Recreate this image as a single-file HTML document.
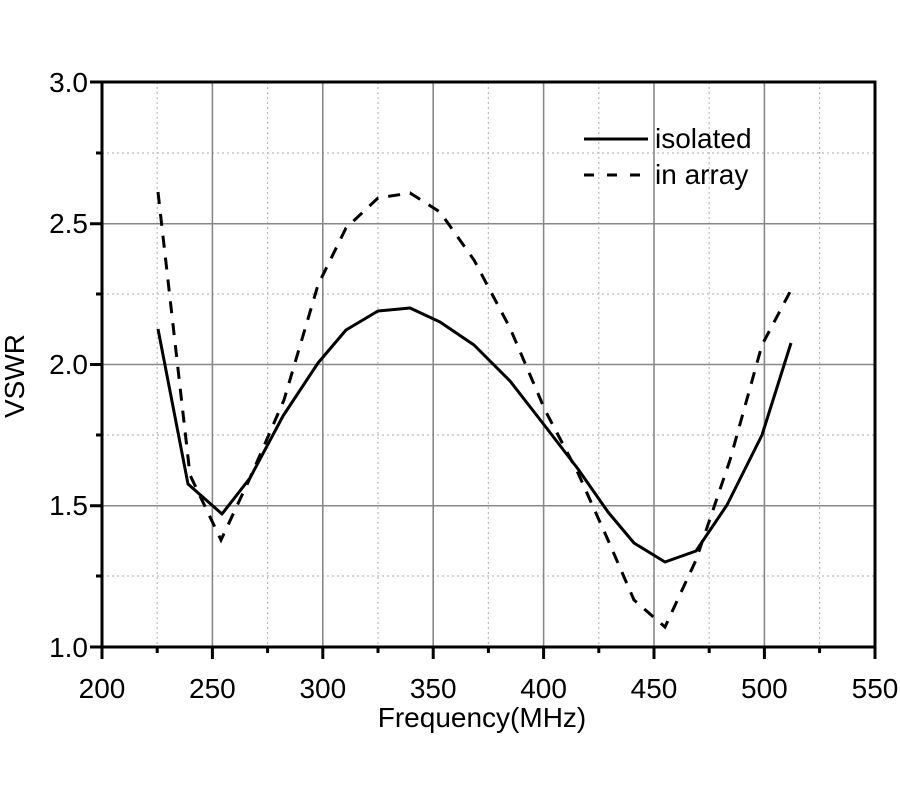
<!DOCTYPE html>
<html><head><style>body{margin:0;background:#fff}svg{display:block}text{font-family:"Liberation Sans",Arial,sans-serif;fill:#000}</style></head>
<body>
<svg width="900" height="800" viewBox="0 0 900 800">
<g stroke="#bbb" stroke-width="1.2" stroke-dasharray="2,3">
<line x1="157.2" y1="82" x2="157.2" y2="647"/><line x1="267.6" y1="82" x2="267.6" y2="647"/><line x1="378" y1="82" x2="378" y2="647"/><line x1="488.4" y1="82" x2="488.4" y2="647"/><line x1="598.8" y1="82" x2="598.8" y2="647"/><line x1="709.2" y1="82" x2="709.2" y2="647"/><line x1="819.6" y1="82" x2="819.6" y2="647"/>
<line x1="102" y1="153" x2="875" y2="153"/><line x1="102" y1="294" x2="875" y2="294"/><line x1="102" y1="435" x2="875" y2="435"/><line x1="102" y1="576" x2="875" y2="576"/>
</g>
<g stroke="#888" stroke-width="1.6">
<line x1="212.4" y1="82" x2="212.4" y2="647"/><line x1="322.8" y1="82" x2="322.8" y2="647"/><line x1="433.2" y1="82" x2="433.2" y2="647"/><line x1="543.6" y1="82" x2="543.6" y2="647"/><line x1="654" y1="82" x2="654" y2="647"/><line x1="764.4" y1="82" x2="764.4" y2="647"/>
<line x1="102" y1="223.75" x2="875" y2="223.75"/><line x1="102" y1="364.5" x2="875" y2="364.5"/><line x1="102" y1="505.75" x2="875" y2="505.75"/>
</g>
<rect x="102" y="82" width="773" height="565" fill="none" stroke="#000" stroke-width="3"/>
<g stroke="#000" stroke-width="3">
<line x1="102" y1="647" x2="102" y2="659"/><line x1="212.4" y1="647" x2="212.4" y2="659"/><line x1="322.8" y1="647" x2="322.8" y2="659"/><line x1="433.2" y1="647" x2="433.2" y2="659"/><line x1="543.6" y1="647" x2="543.6" y2="659"/><line x1="654" y1="647" x2="654" y2="659"/><line x1="764.4" y1="647" x2="764.4" y2="659"/><line x1="875" y1="647" x2="875" y2="659"/>
<line x1="157.2" y1="647" x2="157.2" y2="653"/><line x1="267.6" y1="647" x2="267.6" y2="653"/><line x1="378" y1="647" x2="378" y2="653"/><line x1="488.4" y1="647" x2="488.4" y2="653"/><line x1="598.8" y1="647" x2="598.8" y2="653"/><line x1="709.2" y1="647" x2="709.2" y2="653"/><line x1="819.6" y1="647" x2="819.6" y2="653"/>
<line x1="90" y1="82" x2="102" y2="82"/><line x1="90" y1="223.75" x2="102" y2="223.75"/><line x1="90" y1="364.5" x2="102" y2="364.5"/><line x1="90" y1="505.75" x2="102" y2="505.75"/><line x1="90" y1="647" x2="102" y2="647"/>
<line x1="96" y1="153" x2="102" y2="153"/><line x1="96" y1="294" x2="102" y2="294"/><line x1="96" y1="435" x2="102" y2="435"/><line x1="96" y1="576" x2="102" y2="576"/>
</g>
<g font-size="28" text-anchor="end">
<text x="88" y="92">3.0</text><text x="88" y="233">2.5</text><text x="88" y="374">2.0</text><text x="88" y="515">1.5</text><text x="88" y="657">1.0</text>
</g>
<g font-size="28" text-anchor="middle">
<text x="102" y="698">200</text><text x="212.4" y="698">250</text><text x="322.8" y="698">300</text><text x="433.2" y="698">350</text><text x="543.6" y="698">400</text><text x="654" y="698">450</text><text x="764.4" y="698">500</text><text x="875" y="698">550</text>
</g>
<text x="482" y="727" font-size="28" text-anchor="middle">Frequency(MHz)</text>
<text transform="translate(24,376) rotate(-90)" font-size="28" text-anchor="middle">VSWR</text>
<polyline fill="none" stroke="#000" stroke-width="3" stroke-linejoin="round" points="158,329 188,484 222,514 250,478 283,416 318,363 346,330 378,311 410,308 440,322 474,345 510,381 545,426 578,469 608,512 634,543 665,562 696,551 727,505 762,435 791,343"/>
<polyline fill="none" stroke="#000" stroke-width="3" stroke-dasharray="12,10" points="158,192 190,475 221,540 250,478 284,400 318,285 346,228 378,198 410,193 440,212 474,260 510,328 545,410 578,473 608,540 634,600 665,627 696,560 730,460 762,345 791,290"/>
<line x1="584" y1="139" x2="648" y2="139" stroke="#000" stroke-width="3"/>
<line x1="584" y1="175" x2="648" y2="175" stroke="#000" stroke-width="3" stroke-dasharray="10,13"/>
<text x="655" y="148" font-size="28">isolated</text>
<text x="655" y="184" font-size="28">in array</text>
</svg>
</body></html>
